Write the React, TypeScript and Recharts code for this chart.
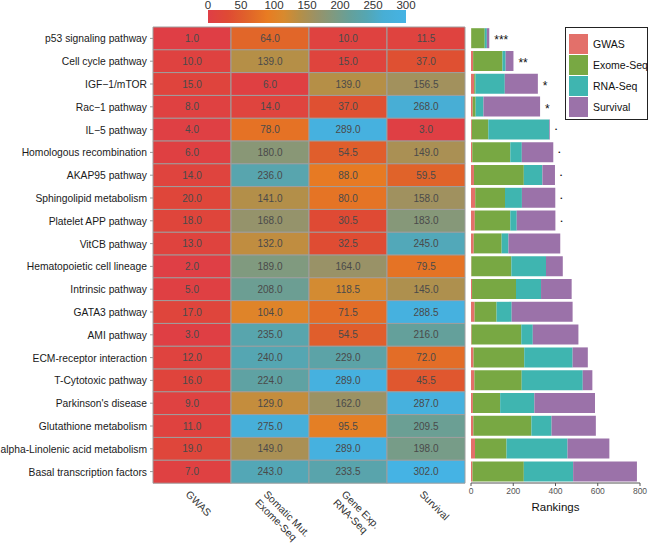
import React from 'react';
import { BarChart, Bar, XAxis, YAxis, Cell, LabelList, Legend } from 'recharts';

const PATHWAYS = [
  'p53 signaling pathway',
  'Cell cycle pathway',
  'IGF\u22121/mTOR',
  'Rac\u22121 pathway',
  'IL\u22125 pathway',
  'Homologous recombination',
  'AKAP95 pathway',
  'Sphingolipid metabolism',
  'Platelet APP pathway',
  'VitCB pathway',
  'Hematopoietic cell lineage',
  'Intrinsic pathway',
  'GATA3 pathway',
  'AMI pathway',
  'ECM-receptor interaction',
  'T-Cytotoxic pathway',
  "Parkinson's disease",
  'Glutathione metabolism',
  'alpha-Linolenic acid metabolism',
  'Basal transcription factors',
];
const GWAS = [1, 10, 15, 8, 4, 6, 14, 20, 18, 13, 2, 5, 17, 3, 12, 16, 9, 11, 19, 7];
const EXOME = [64, 139, 6, 14, 78, 180, 236, 141, 168, 132, 189, 208, 104, 235, 240, 224, 129, 275, 149, 243];
const RNA = [10, 15, 139, 37, 289, 54.5, 88, 80, 30.5, 32.5, 164, 118.5, 71.5, 54.5, 229, 289, 162, 95.5, 289, 233.5];
const SURVIVAL = [11.5, 37, 156.5, 268, 3, 149, 59.5, 158, 183, 245, 79.5, 145, 288.5, 216, 72, 45.5, 287, 209.5, 198, 302];
const SIGNIF = ['***', '**', '*', '*', '\u2022', '\u2022', '\u2022', '\u2022', '\u2022', '', '', '', '', '', '', '', '', '', '', ''];

const COLUMN_LABELS = [['GWAS'], ['Somatic Mut.', 'Exome-Seq'], ['Gene Exp.', 'RNA-Seq'], ['Survival']];
const HEAT_KEYS = ['gwas', 'exome', 'rna', 'survival'];
const SERIES_NAMES = ['GWAS', 'Exome-Seq', 'RNA-Seq', 'Survival'];
const SERIES_COLORS = ['#e3706a', '#78a843', '#3fb5b0', '#9b72a9'];
const COLORBAR_TICKS = [0, 50, 100, 150, 200, 250, 300];
const RANK_TICKS = [0, 200, 400, 600, 800];

const COLOR_STOPS = [0, 30, 60, 90, 115, 140, 165, 190, 215, 240, 265, 300];
const COLOR_VALUES = ['#df3e46', '#df4a34', '#e0632a', '#e87c22', '#d88a2e', '#b48f48', '#989268', '#7f9a80', '#65a09a', '#55a6b2', '#48aed4', '#45b3e4'];

function hexToRgb(h: string) {
  const n = parseInt(h.slice(1), 16);
  return [(n >> 16) & 255, (n >> 8) & 255, n & 255];
}
function scaleColor(v: number) {
  const c = Math.max(0, Math.min(300, v));
  for (let i = 0; i < COLOR_STOPS.length - 1; i++) {
    if (c <= COLOR_STOPS[i + 1]) {
      const t = (c - COLOR_STOPS[i]) / (COLOR_STOPS[i + 1] - COLOR_STOPS[i]);
      const a = hexToRgb(COLOR_VALUES[i]);
      const b = hexToRgb(COLOR_VALUES[i + 1]);
      const r = a.map((x, k) => Math.round(x + (b[k] - x) * t));
      return `rgb(${r[0]},${r[1]},${r[2]})`;
    }
  }
  return COLOR_VALUES[COLOR_VALUES.length - 1];
}

const table = PATHWAYS.map((name, i) => ({
  name,
  gwas: GWAS[i],
  exome: EXOME[i],
  rna: RNA[i],
  survival: SURVIVAL[i],
  sig: SIGNIF[i],
  u0: 1,
  u1: 1,
  u2: 1,
  u3: 1,
}));

const colorbarData = [{ name: 'scale', v: 300 }];

const RowTick = (props: any) => {
  const { x, y, payload } = props;
  return (
    <text x={x} y={y} dy={4} textAnchor="end" fontSize={10.3} fill="#1a1a1a">
      {payload.value}
    </text>
  );
};

const ColTick = (props: any) => {
  const { x, y, payload } = props;
  const idx = Math.floor(payload.value);
  const lines = COLUMN_LABELS[idx] || [];
  return (
    <g transform={`translate(${x - 7},${y + 12}) rotate(45)`}>
      <text x={0} y={0} textAnchor="start" fontSize={10.3} fill="#333">
        {lines.map((l, i) => (
          <tspan key={i} x={0} dy={i === 0 ? 0 : 12}>
            {l}
          </tspan>
        ))}
      </text>
    </g>
  );
};

const SigLabel = (props: any) => {
  const { x, y, width, height, value } = props;
  if (!value) return null;
  const isDot = value === '\u2022';
  return (
    <text
      x={x + width + 5}
      y={y + height / 2 + (isDot ? 2 : 6)}
      fontSize={isDot ? 6 : 12}
      fill="#111"
      textAnchor="start"
    >
      {value}
    </text>
  );
};

const LegendBox = (props: any) => {
  const payload = [...(props.payload || [])].sort(
    (a: any, b: any) => SERIES_NAMES.indexOf(a.value) - SERIES_NAMES.indexOf(b.value)
  );
  return (
    <div
      style={{
        border: '1.5px solid #222',
        width: 83,
        height: 93,
        boxSizing: 'border-box',
        padding: '5px 0 0 3px',
        background: '#fff',
      }}
    >
      {payload.map((p: any, i: number) => (
        <div key={i} style={{ display: 'flex', alignItems: 'center', height: 21, whiteSpace: 'nowrap' }}>
          <span style={{ width: 19, height: 20, background: p.color, marginRight: 5, display: 'inline-block', flexShrink: 0 }} />
          <span style={{ fontSize: 10.5, color: '#111' }}>{p.value}</span>
        </div>
      ))}
    </div>
  );
};

export default function App() {
  return (
    <div
      style={{
        position: 'absolute',
        left: 0,
        top: 0,
        width: 650,
        height: 544,
        background: '#fff',
        fontFamily: '"Liberation Sans", Arial, Helvetica, sans-serif',
      }}
    >
      {/* Heatmap */}
      <div style={{ position: 'absolute', left: 0, top: 0 }}>
        <BarChart
          width={470}
          height={544}
          data={table}
          layout="vertical"
          margin={{ top: 27, right: 5, left: 0, bottom: 0 }}
          barCategoryGap={0}
        >
          <XAxis
            type="number"
            domain={[0, 4]}
            ticks={[0.5, 1.5, 2.5, 3.5]}
            height={61}
            axisLine={false}
            tickLine={false}
            tickSize={0}
            tickMargin={0}
            interval={0}
            tick={<ColTick />}
          />
          <YAxis
            type="category"
            dataKey="name"
            width={153}
            axisLine={false}
            tickSize={3}
            tickMargin={3}
            tickLine={{ stroke: '#999' }}
            interval={0}
            tick={<RowTick />}
          />
          {HEAT_KEYS.map((k, j) => (
            <Bar
              key={k}
              dataKey={`u${j}`}
              stackId="heat"
              isAnimationActive={false}
              stroke="#9e9e9e"
              strokeWidth={1}
            >
              {table.map((d: any, i) => (
                <Cell key={i} fill={scaleColor(d[k])} />
              ))}
              <LabelList
                dataKey={k}
                position="center"
                formatter={(v: any) => Number(v).toFixed(1)}
                style={{ fontSize: 10, fill: '#4a4a4a' }}
              />
            </Bar>
          ))}
        </BarChart>
      </div>

      {/* Color bar */}
      <div style={{ position: 'absolute', left: 0, top: 0 }}>
        <BarChart
          width={430}
          height={24}
          data={colorbarData}
          layout="vertical"
          margin={{ top: 0, right: 24, left: 208, bottom: 1 }}
          barCategoryGap={0}
        >
          <defs>
            <linearGradient id="cbar" x1="0" y1="0" x2="1" y2="0">
              {COLOR_STOPS.map((s, i) => (
                <stop key={i} offset={`${(s / 300) * 100}%`} stopColor={COLOR_VALUES[i]} />
              ))}
            </linearGradient>
          </defs>
          <XAxis
            type="number"
            orientation="top"
            domain={[0, 300]}
            ticks={COLORBAR_TICKS}
            height={10}
            axisLine={false}
            tickLine={false}
            tickSize={0}
            tickMargin={1}
            interval={0}
            tick={{ fontSize: 11.5, fill: '#333' }}
          />
          <YAxis type="category" dataKey="name" hide />
          <Bar dataKey="v" fill="url(#cbar)" isAnimationActive={false} />
        </BarChart>
      </div>

      {/* Rankings stacked bars */}
      <div style={{ position: 'absolute', left: 465, top: 0 }}>
        <BarChart
          width={185}
          height={544}
          data={table}
          layout="vertical"
          margin={{ top: 27, right: 10, left: 6, bottom: 27 }}
          barCategoryGap={1.2}
        >
          <XAxis
            type="number"
            domain={[0, 800]}
            ticks={RANK_TICKS}
            height={34}
            interval={0}
            axisLine={{ stroke: '#555' }}
            tickLine={{ stroke: '#555' }}
            tickSize={3}
            tickMargin={2}
            tick={{ fontSize: 8.5, fill: '#555' }}
            label={{ value: 'Rankings', position: 'insideBottom', offset: 6, style: { fontSize: 11.5, fill: '#111' } }}
          />
          <YAxis type="category" dataKey="name" hide />
          <Legend
            layout="horizontal"
            verticalAlign="middle"
            align="center"
            content={<LegendBox />}
            wrapperStyle={{ position: 'absolute', left: 100, top: 27, width: 83, height: 93 }}
          />
          {HEAT_KEYS.map((k, j) => (
            <Bar
              key={k}
              dataKey={k}
              name={SERIES_NAMES[j]}
              stackId="rank"
              fill={SERIES_COLORS[j]}
              isAnimationActive={false}
            >
              {j === HEAT_KEYS.length - 1 ? <LabelList dataKey="sig" content={<SigLabel />} /> : null}
            </Bar>
          ))}
        </BarChart>
      </div>
    </div>
  );
}
